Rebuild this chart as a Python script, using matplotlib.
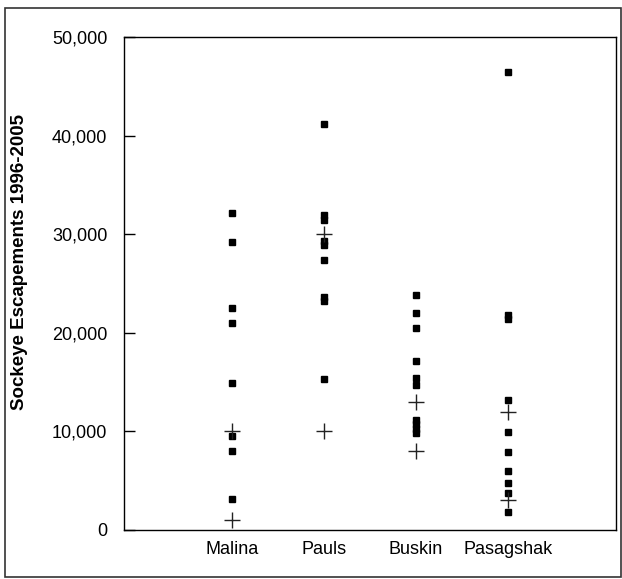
import numpy as np
import matplotlib.pyplot as plt
from matplotlib.patches import Rectangle
from matplotlib.ticker import FuncFormatter

plt.rcParams['font.family'] = ['Liberation Sans', 'DejaVu Sans']

systems = ["Malina", "Pauls", "Buskin", "Pasagshak"]

# annual escapements 1996-2005
malina = [32200, 29200, 22500, 21000, 14900, 9500, 8000, 3100]
pauls = [41200, 31900, 31400, 29300, 28900, 27400, 23600, 23200, 15300]
buskin = [23800, 22000, 20500, 17100, 15400, 14700, 11200, 10700, 10200, 9800]
pasagshak = [46400, 21800, 21400, 13200, 9900, 7900, 6000, 4800, 3800, 1800]

# escapement goal range (lower, upper)
goal_low = [1000, 10000, 8000, 3000]
goal_high = [10000, 30000, 13000, 12000]


def main():
    fig = plt.figure(figsize=(6.22, 5.79), dpi=100)
    W, H = 622, 579
    ax = fig.add_axes([124 / W, 1 - 530 / H, 492 / W, 493 / H])

    series = [malina, pauls, buskin, pasagshak]
    for i, vals in enumerate(series):
        x = np.full(len(vals), i + 1)
        ax.plot(x, vals, 's', color='black', markersize=4.3, zorder=3)

    xpos = np.arange(1, len(systems) + 1)
    ax.plot(xpos, goal_low, '+', color='#222222', markersize=12, mew=1.0, zorder=4)
    ax.plot(xpos, goal_high, '+', color='#222222', markersize=12, mew=1.0, zorder=4)

    ax.set_xlim(-0.17, 5.17)
    ax.set_ylim(0, 50000)
    ax.set_xticks(xpos)
    ax.set_xticklabels(systems, fontsize=13)
    ax.tick_params(axis='x', length=0, pad=8)
    ax.set_yticks(np.arange(0, 50001, 10000))
    ax.yaxis.set_major_formatter(FuncFormatter(lambda v, p: f"{int(v):,}"))
    ax.tick_params(axis='y', labelsize=13, direction='in', length=8, width=1, pad=12)

    for s in ax.spines.values():
        s.set_linewidth(1.0)
        s.set_color('black')

    fig.text(20 / W, 1 - 262 / H, "Sockeye Escapements 1996-2005", rotation=90,
             fontsize=13.5, fontweight='bold', ha='center', va='center')

    # outer frame round the whole chart
    fig.patches.append(Rectangle((5 / W, 1 - 577 / H), 616 / W, 569 / H,
                                 transform=fig.transFigure, fill=False,
                                 edgecolor='#333333', linewidth=1.2))

    fig.savefig("out.png", dpi=100)


if __name__ == '__main__':
    main()
